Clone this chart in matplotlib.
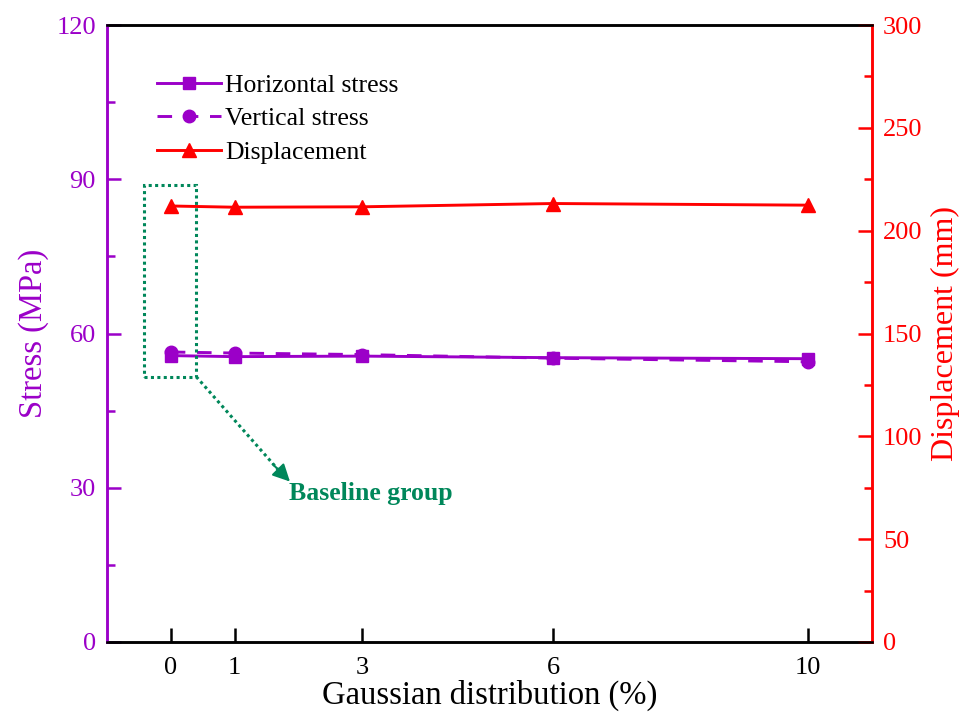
import matplotlib
matplotlib.use("Agg")
import matplotlib.pyplot as plt
from matplotlib.ticker import MultipleLocator, AutoMinorLocator
from matplotlib.patches import Rectangle

plt.rcParams['font.family'] = ['Liberation Serif', 'DejaVu Serif']
plt.rcParams['mathtext.fontset'] = 'stix'

# Gaussian distribution levels (%)
gauss = [0, 1, 3, 6, 10]
horizontal_stress = [55.7, 55.5, 55.6, 55.3, 55.1]   # MPa
vertical_stress = [56.4, 56.2, 55.9, 55.2, 54.5]     # MPa
displacement = [212.0, 211.4, 211.6, 213.2, 212.4]   # mm

purple = '#9B00C8'
red = '#FF0000'
green = '#00875A'

fig = plt.figure(figsize=(9.65, 7.16), dpi=100)
ax = fig.add_axes([107 / 965, 1 - 642 / 716, (872 - 107) / 965, (642 - 25) / 716])
ax2 = ax.twinx()

l1, = ax.plot(gauss, horizontal_stress, '-', color=purple, lw=2.1,
              marker='s', ms=9, label='Horizontal stress')
l2, = ax.plot(gauss, vertical_stress, '--', color=purple, lw=2.1, dashes=(5, 4),
              marker='o', ms=9, label='Vertical stress')
l3, = ax2.plot(gauss, displacement, '-', color=red, lw=2.1,
               marker='^', ms=10.5, label='Displacement')

ax.set_xlim(-1, 11)
ax.set_ylim(0, 120)
ax2.set_ylim(0, 300)
ax.set_xticks(gauss)
ax.yaxis.set_major_locator(MultipleLocator(30))
ax.yaxis.set_minor_locator(AutoMinorLocator(2))
ax2.yaxis.set_major_locator(MultipleLocator(50))
ax2.yaxis.set_minor_locator(AutoMinorLocator(2))

for a in (ax, ax2):
    for s in a.spines.values():
        s.set_linewidth(1.8)
ax2.spines['left'].set_color(purple)
ax2.spines['right'].set_color(red)
ax.spines['left'].set_color(purple)
ax.spines['right'].set_color(red)

ax.tick_params(axis='x', direction='in', length=10, width=1.8, labelsize=19, pad=11,
               top=False)
ax.tick_params(axis='y', which='major', direction='in', length=10, width=1.8,
               colors=purple, labelsize=19, pad=8)
ax.tick_params(axis='y', which='minor', direction='in', length=5.5, width=1.8, colors=purple)
ax2.tick_params(axis='y', which='major', direction='in', length=10, width=1.8,
                colors=red, labelsize=19, pad=8)
ax2.tick_params(axis='y', which='minor', direction='in', length=5.5, width=1.8, colors=red)

ax.set_xlabel('Gaussian distribution (%)', fontsize=23.5, labelpad=0)
ax.set_ylabel('Stress (MPa)', fontsize=23.5, color=purple, labelpad=5)
ax2.set_ylabel('Displacement (mm)', fontsize=23, color=red, labelpad=6)

# baseline group marker box and arrow
ax.add_patch(Rectangle((-0.42, 51.6), 0.82, 37.2, fill=False, ec=green, lw=2.2,
                       ls=(0, (1, 1.1)), zorder=5))
ax.plot([0.4, 1.7], [51.6, 33.3], color=green, lw=2.2, ls=(0, (1, 1.1)))
ax.annotate('', xy=(1.87, 31.2), xytext=(1.6, 34.6),
            arrowprops=dict(arrowstyle='-|>', color=green, lw=1.5,
                            mutation_scale=26, shrinkA=0, shrinkB=0))
ax.text(1.85, 28.9, 'Baseline group', color=green, fontsize=18.5, fontweight='bold',
        ha='left', va='center')

ax.legend(handles=[l1, l2, l3], loc='upper left', bbox_to_anchor=(0.052, 0.937),
          frameon=False, fontsize=18.5, handlelength=2.5, handletextpad=0.15,
          labelspacing=0.4, borderaxespad=0)

fig.savefig('out.png', dpi=100)
